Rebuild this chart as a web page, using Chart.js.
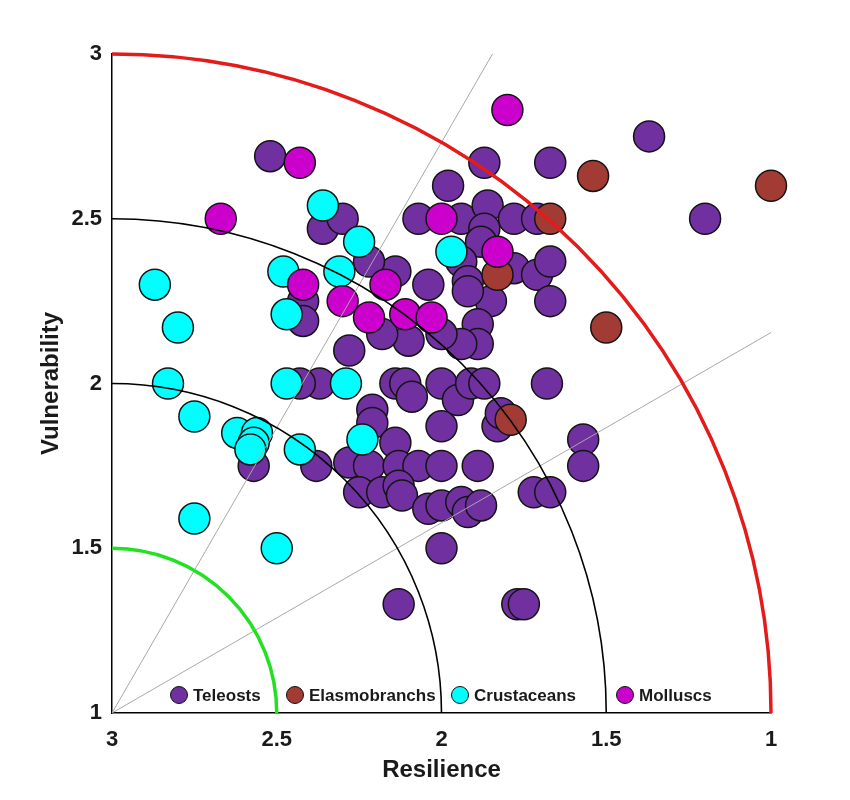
<!DOCTYPE html>
<html>
<head>
<meta charset="utf-8">
<title>Resilience vs Vulnerability</title>
<script src="https://cdn.jsdelivr.net/npm/chart.js@4.4.1/dist/chart.umd.min.js"></script>
<style>
  html, body { margin: 0; padding: 0; background: #fff; }
  #wrap { width: 850px; height: 800px; position: relative; }
</style>
</head>
<body>
<div id="wrap"><canvas id="chart-rv" width="850" height="800"></canvas></div>
<script>
// group labels, in legend order
var groups = ['Teleosts', 'Elasmobranchs', 'Crustaceans', 'Molluscs'];

// resilience (x) / vulnerability (y) scores
var teleostRes = [2.52, 1.87, 1.67, 1.37, 1.20, 1.98, 2.07, 1.94, 1.86, 1.78, 1.71, 1.87, 1.88, 1.94, 1.92, 1.85,
                  2.04, 2.14, 2.22, 2.36, 2.30, 2.42, 2.42, 1.78, 1.71, 1.67, 1.67, 1.92, 1.89, 1.89, 1.94, 2.00,
                  2.10, 2.18, 2.28, 2.37, 2.43, 2.14, 2.11, 2.09, 2.00, 1.95, 1.91, 1.87, 1.68, 2.00, 1.83, 1.82,
                  2.21, 2.21, 2.14, 2.38, 2.28, 2.22, 2.13, 2.07, 2.00, 1.89, 2.25, 2.18, 2.13, 2.12, 2.04, 2.00,
                  1.94, 1.92, 1.88, 1.72, 1.67, 1.57, 1.57, 2.00, 2.13, 1.77, 1.75, 2.57];
var teleostVul = [2.69, 2.67, 2.67, 2.75, 2.50, 2.60, 2.50, 2.50, 2.54, 2.50, 2.50, 2.47, 2.43, 2.37, 2.31, 2.25,
                  2.30, 2.34, 2.37, 2.47, 2.50, 2.25, 2.19, 2.35, 2.33, 2.37, 2.25, 2.28, 2.18, 2.12, 2.12, 2.15,
                  2.13, 2.15, 2.10, 2.00, 2.00, 2.00, 2.00, 1.96, 2.00, 1.95, 2.00, 2.00, 2.00, 1.87, 1.87, 1.91,
                  1.92, 1.88, 1.82, 1.75, 1.76, 1.75, 1.75, 1.75, 1.75, 1.75, 1.67, 1.67, 1.69, 1.66, 1.62, 1.63,
                  1.64, 1.61, 1.63, 1.67, 1.67, 1.83, 1.75, 1.50, 1.33, 1.33, 1.33, 1.75];

var elasmoRes = [1.54, 1.00, 1.67, 1.83, 1.50, 1.79];
var elasmoVul = [2.63, 2.60, 2.50, 2.33, 2.17, 1.89];

var crustRes = [2.87, 2.80, 2.83, 2.75, 2.62, 2.56, 2.57, 2.58, 2.43, 2.47, 2.29, 2.24, 2.75, 2.50,
                2.48, 2.47, 2.31, 2.36, 2.25, 1.97];
var crustVul = [2.30, 2.17, 2.00, 1.90, 1.85, 1.85, 1.82, 1.80, 1.80, 2.00, 2.00, 1.83, 1.59, 1.50,
                2.34, 2.21, 2.34, 2.54, 2.43, 2.40];

var molluscRes = [1.80, 2.43, 2.67, 2.00, 1.83, 2.42, 2.30, 2.17, 2.22, 2.11, 2.03];
var molluscVul = [2.83, 2.67, 2.50, 2.50, 2.40, 2.30, 2.25, 2.30, 2.20, 2.21, 2.20];

// axis ticks
var resTicks = [3, 2.5, 2, 1.5, 1];
var vulTicks = [1, 1.5, 2, 2.5, 3];

// reference rings (radius in score units around the 3/1 corner) and guide rays (degrees)
var ringRadii = [0.5, 1, 1.5, 2];
var rayAngles = [30, 60];

var groupColors = ['#7030A0', '#A23B34', '#00FFFF', '#CC00CC'];
var ringStyles = [
  { color: '#22E022', width: 3.5 },
  { color: '#000000', width: 1.6 },
  { color: '#000000', width: 1.6 },
  { color: '#E31B1B', width: 3.5 }
];
var FONT = "'Liberation Sans', Arial, sans-serif";
var TEXT = '#1a1a1a';

function toPoints(xs, ys) {
  return xs.map(function (v, i) { return { x: v, y: ys[i] }; });
}

function plainTick(v) { return String(v); }

// rings + rays are drawn over the markers, like in the source figure
var overlayPlugin = {
  id: 'rvOverlay',
  afterDatasetsDraw: function (chart) {
    var ctx = chart.ctx, xs = chart.scales.x, ys = chart.scales.y;
    var cx = xs.getPixelForValue(3), cy = ys.getPixelForValue(1);
    var unit = Math.abs(xs.getPixelForValue(2) - cx);
    ctx.save();
    ctx.strokeStyle = '#A8A8A8';
    ctx.lineWidth = 1;
    rayAngles.forEach(function (deg) {
      var a = deg * Math.PI / 180;
      var len = 2 / Math.cos(Math.min(a, Math.PI / 2 - a)) * unit;
      ctx.beginPath();
      ctx.moveTo(cx, cy);
      ctx.lineTo(cx + len * Math.cos(a), cy - len * Math.sin(a));
      ctx.stroke();
    });
    ringRadii.forEach(function (r, i) {
      ctx.beginPath();
      ctx.strokeStyle = ringStyles[i].color;
      ctx.lineWidth = ringStyles[i].width;
      ctx.arc(cx, cy, r * unit, -Math.PI / 2, 0);
      ctx.stroke();
    });
    ctx.restore();
  },
  afterDraw: function (chart) {
    // legend sits inside the plot, just above the x axis
    var ctx = chart.ctx, area = chart.chartArea;
    var markerX = [179, 295, 460, 625];
    var ly = area.bottom - 18;
    ctx.save();
    ctx.font = 'bold 17px ' + FONT;
    ctx.textBaseline = 'middle';
    ctx.textAlign = 'left';
    groups.forEach(function (g, i) {
      ctx.beginPath();
      ctx.arc(markerX[i], ly, 8.5, 0, Math.PI * 2);
      ctx.fillStyle = groupColors[i];
      ctx.fill();
      ctx.lineWidth = 1;
      ctx.strokeStyle = '#111';
      ctx.stroke();
      ctx.fillStyle = TEXT;
      ctx.fillText(g, markerX[i] + 14, ly + 1);
    });
    ctx.restore();
  }
};

var series = [
  toPoints(teleostRes, teleostVul),
  toPoints(elasmoRes, elasmoVul),
  toPoints(crustRes, crustVul),
  toPoints(molluscRes, molluscVul)
];

var datasets = groups.map(function (g, i) {
  return {
    label: g,
    data: series[i],
    backgroundColor: groupColors[i],
    borderColor: '#141414',
    borderWidth: 1.5,
    pointRadius: 15.5,
    pointHoverRadius: 15.5,
    order: groups.length - i,   // teleosts at the back, molluscs in front
    clip: false
  };
});

new Chart(document.getElementById('chart-rv').getContext('2d'), {
  type: 'scatter',
  data: { datasets: datasets },
  options: {
    responsive: false,
    animation: false,
    layout: { padding: { top: 54, right: 79, bottom: 0, left: 0 } },
    plugins: { legend: { display: false }, tooltip: { enabled: false } },
    scales: {
      x: {
        type: 'linear', reverse: true, min: 1, max: 3,
        afterBuildTicks: function (s) { s.ticks = resTicks.map(function (v) { return { value: v }; }); },
        afterFit: function (s) { s.height = 87; },
        grid: { display: false, drawTicks: false },
        border: { display: true, color: '#000', width: 1.5 },
        ticks: { padding: 14, color: TEXT, callback: plainTick,
                 font: { family: FONT, size: 22, weight: 'bold' } },
        title: { display: true, text: 'Resilience', color: TEXT, padding: { top: 0, bottom: 15 },
                 font: { family: FONT, size: 24, weight: 'bold' } }
      },
      y: {
        type: 'linear', min: 1, max: 3,
        afterBuildTicks: function (s) { s.ticks = vulTicks.map(function (v) { return { value: v }; }); },
        afterFit: function (s) { s.width = 112; },
        grid: { display: false, drawTicks: false },
        border: { display: true, color: '#000', width: 1.5 },
        ticks: { padding: 10, color: TEXT, callback: plainTick,
                 font: { family: FONT, size: 22, weight: 'bold' } },
        title: { display: true, text: 'Vulnerability', color: TEXT, padding: { top: 37, bottom: 0 },
                 font: { family: FONT, size: 24, weight: 'bold' } }
      }
    }
  },
  plugins: [overlayPlugin]
});
</script>
</body>
</html>
